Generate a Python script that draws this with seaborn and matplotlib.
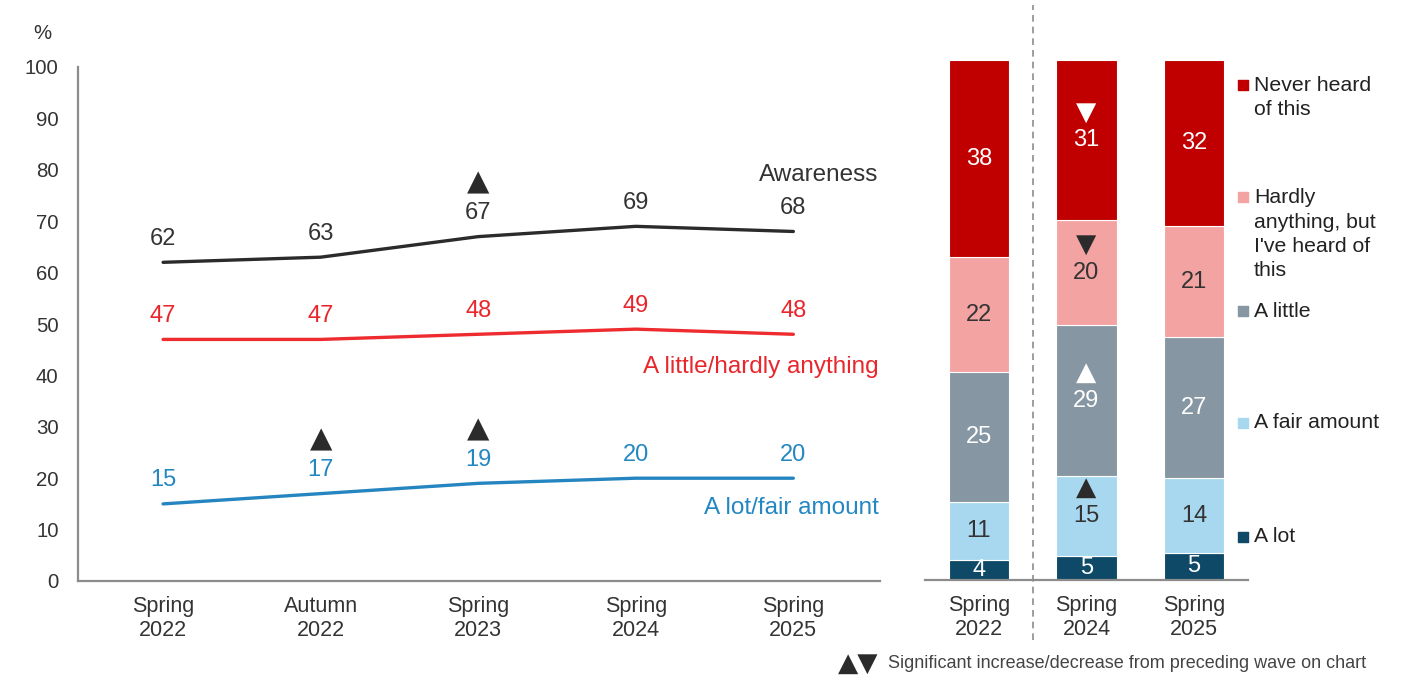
import matplotlib
matplotlib.use("Agg")
import matplotlib.pyplot as plt
import numpy as np
import pandas as pd
import seaborn as sns

# ---------------- data ----------------
line_waves = ["Spring\n2022", "Autumn\n2022", "Spring\n2023", "Spring\n2024", "Spring\n2025"]
awareness = [62, 63, 67, 69, 68]
little_hardly = [47, 47, 48, 49, 48]
lot_fair = [15, 17, 19, 20, 20]
line_names = ["Awareness", "A little/hardly anything", "A lot/fair amount"]

# significant changes on line chart: (series index, wave index, direction)
line_sig = [(0, 2, "up"), (2, 1, "up"), (2, 2, "up")]

bar_waves = ["Spring\n2022", "Spring\n2024", "Spring\n2025"]
# segment sizes (labels are the rounded values)
a_lot = [3.8, 4.6, 5.2]
fair_amount = [11.2, 15.4, 14.4]
a_little = [25.0, 29.0, 27.1]
hardly = [22.1, 20.2, 21.4]
never = [37.9, 30.8, 31.9]
bar_names = ["A lot", "A fair amount", "A little",
             "Hardly\nanything, but\nI've heard of\nthis", "Never heard\nof this"]
# significant changes on bar chart: (segment index, wave index, direction)
bar_sig = [(4, 1, "down"), (3, 1, "down"), (2, 1, "up"), (1, 1, "up")]

# ---------------- style ----------------
sns.set_theme(style="white")
plt.rcParams["font.family"] = ["Liberation Sans", "DejaVu Sans"]
TXT = "#333333"
SPINE = "#8c8c8c"
line_colors = ["#2b2b2b", "#ee2b2e", "#2585c0"]
label_colors = ["#333333", "#e8262b", "#2387c2"]
seg_colors = ["#0e4a68", "#a8d8f0", "#8696a2", "#f4a3a3", "#c00000"]
seg_text = ["white", "#333333", "white", "#333333", "white"]
FS_Y = 14.7
FS_X = 15.5
FS_NUM = 17
FS_LAB = 17.5
FS_LEG = 15.3
TRI = 21

fig = plt.figure(figsize=(14.03, 6.79), dpi=100)
W, H = 1403, 679

# ---------------- left line chart ----------------
axL = fig.add_axes([78 / W, 1 - 581 / H, (880 - 78) / W, (581 - 67) / H])
df = pd.DataFrame({
    "x": list(range(len(line_waves))) * 3,
    "value": awareness + little_hardly + lot_fair,
    "series": sum([[n] * len(line_waves) for n in line_names], []),
})
sns.lineplot(data=df, x="x", y="value", hue="series", palette=dict(zip(line_names, line_colors)),
             linewidth=2.4, legend=False, ax=axL)
axL.set_xlim(-0.54, 4.55)
axL.set_ylim(0, 100)
axL.set_yticks(range(0, 101, 10))
axL.set_xticks(range(len(line_waves)))
axL.set_xticklabels(line_waves, fontsize=FS_X, color=TXT, linespacing=1.2)
axL.tick_params(axis="y", labelsize=FS_Y, labelcolor=TXT, pad=14, length=0)
axL.tick_params(axis="x", pad=11, length=0)
axL.set_xlabel("")
axL.set_ylabel("")
for s in ["top", "right"]:
    axL.spines[s].set_visible(False)
for s in ["left", "bottom"]:
    axL.spines[s].set_color(SPINE)
    axL.spines[s].set_linewidth(1.6)
axL.text(-0.045, 1.066, "%", transform=axL.transAxes, ha="center", va="center",
         fontsize=FS_Y, color=TXT)

series_vals = [awareness, little_hardly, lot_fair]
for si, vals in enumerate(series_vals):
    for xi, v in enumerate(vals):
        axL.annotate(str(v), (xi, v), xytext=(0, 17), textcoords="offset points",
                     ha="center", va="center", fontsize=FS_NUM, color=label_colors[si])

for si, xi, d in line_sig:
    v = series_vals[si][xi]
    axL.annotate("▲" if d == "up" else "▼", (xi, v), xytext=(0, 39), textcoords="offset points",
                 ha="center", va="center", fontsize=TRI, color="#2b2b2b",
                 family=["DejaVu Sans"])

label_y = [79, 41.6, 14.2]
for si, name in enumerate(line_names):
    axL.text(4.54, label_y[si], name, ha="right", va="center", fontsize=FS_LAB,
             color=label_colors[si])

# ---------------- right stacked bars ----------------
axR = fig.add_axes([925 / W, 1 - 580 / H, (1248 - 925) / W, (580 - 60) / H])
segments = [a_lot, fair_amount, a_little, hardly, never]
xb = np.arange(len(bar_waves))
bottom = np.zeros(len(bar_waves))
centers = []
for k, seg in enumerate(segments):
    seg = np.array(seg, dtype=float)
    axR.bar(xb, seg, bottom=bottom, width=0.56, color=seg_colors[k], edgecolor="white",
            linewidth=0.8)
    centers.append(bottom + seg / 2)
    for i in range(len(xb)):
        axR.text(xb[i], bottom[i] + seg[i] / 2, str(int(round(seg[i]))), ha="center",
                 va="center", fontsize=FS_NUM, color=seg_text[k])
    bottom = bottom + seg

for k, i, d in bar_sig:
    col = "white" if seg_text[k] == "white" else "#2b2b2b"
    axR.annotate("▲" if d == "up" else "▼", (xb[i], centers[k][i]), xytext=(0, 20),
                 textcoords="offset points", ha="center", va="center", fontsize=19, color=col,
                 family=["DejaVu Sans"])

axR.set_xlim(-0.5, 2.5)
axR.set_ylim(0, 100)
axR.set_yticks([])
axR.set_xticks(xb)
axR.set_xticklabels(bar_waves, fontsize=FS_X, color=TXT, linespacing=1.2)
axR.tick_params(axis="x", pad=11, length=0)
for s in ["top", "right", "left"]:
    axR.spines[s].set_visible(False)
axR.spines["bottom"].set_color(SPINE)
axR.spines["bottom"].set_linewidth(1.6)

axR.plot([0.5, 0.5], [-11.5, 110.5], ls=(0, (4, 3)), color="#8c8c8c", lw=1.2, clip_on=False)

# legend on the right
leg_y = [8.3, 30.2, 51.7, 66.5, 92.8]
leg_first = [8.3, 30.2, 51.7, 73.6, 95.2]
for k, name in enumerate(bar_names):
    axR.scatter([2.455], [leg_first[k]], marker="s", s=42, color=seg_colors[k], clip_on=False,
                zorder=5)
    axR.text(2.555, leg_y[k], name, ha="left", va="center", fontsize=FS_LEG, color="#222222",
             linespacing=1.35)

# footnote
fig.text(838 / W, 1 - 664 / H, "▲▼", ha="left", va="center", fontsize=19, color="#2b2b2b",
         family=["DejaVu Sans"])
fig.text(888 / W, 1 - 664 / H, "Significant increase/decrease from preceding wave on chart",
         ha="left", va="center", fontsize=13, color="#444444")

fig.savefig("out.png", dpi=100)
